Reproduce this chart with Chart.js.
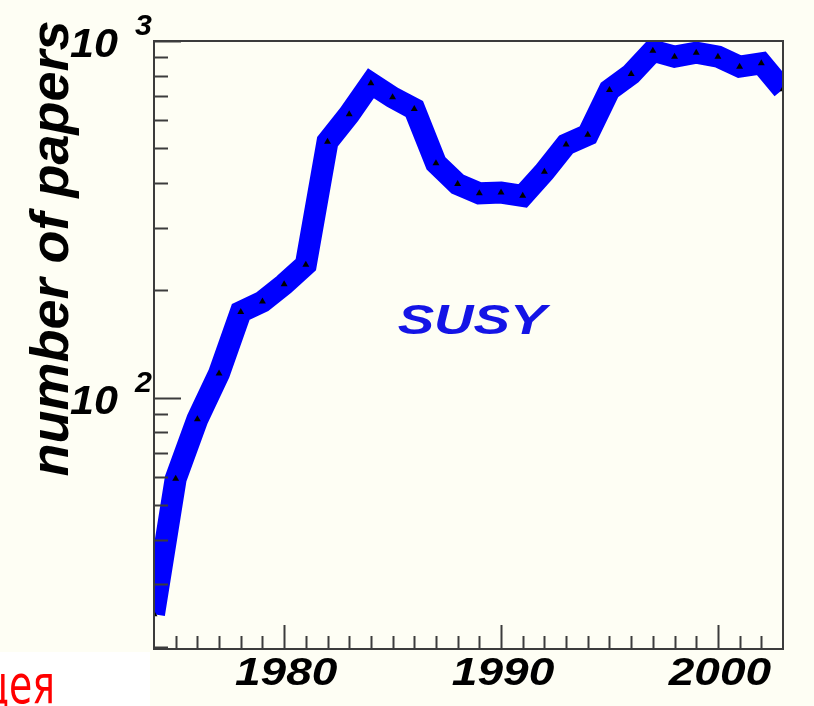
<!DOCTYPE html>
<html>
<head>
<meta charset="utf-8">
<script src="https://cdn.jsdelivr.net/npm/chart.js@4/dist/chart.umd.min.js"></script>
<style>
  html, body { margin: 0; padding: 0; background: #fefef4; }
  #wrap { width: 814px; height: 706px; position: relative; }
</style>
</head>
<body>
<div id="wrap"><canvas id="c" width="814" height="706"></canvas></div>
<script>
// Yearly count of SUSY papers
const years = [1974, 1975, 1976, 1977, 1978, 1979, 1980, 1981, 1982, 1983,
               1984, 1985, 1986, 1987, 1988, 1989, 1990, 1991, 1992, 1993,
               1994, 1995, 1996, 1997, 1998, 1999, 2000, 2001, 2002, 2003];
const papers = [24.7, 59.3, 87, 117, 174, 186, 208, 236, 522, 623,
                761, 695, 645, 454, 397, 374, 376, 368, 430, 513,
                546, 729, 808, 939, 904, 927, 904, 847, 866, 732];

// Axis ticks and labels
const xMajorTicks = [1980, 1990, 2000];
const xTickLabels = ['1980', '1990', '2000'];
const yDecades = [100, 1000];
const yTickBase = ['10', '10'];
const yTickExp = ['2', '3'];
const yMinorTicks = [20, 30, 40, 50, 60, 70, 80, 90, 200, 300, 400, 500, 600, 700, 800, 900];

const seriesLabel = 'SUSY';
const yTitle = 'number of papers';
const cornerText = 'цея';

const AXIS_FONT = '"Liberation Sans", Arial, Helvetica, sans-serif';

function drawText(ctx, text, x, y, font, color, align, sx) {
  ctx.save();
  ctx.translate(x, y);
  ctx.scale(sx, 1);
  ctx.font = font;
  ctx.fillStyle = color;
  ctx.textAlign = align;
  ctx.textBaseline = 'alphabetic';
  ctx.fillText(text, 0, 0);
  ctx.restore();
}

const framePlugin = {
  id: 'frame',
  beforeDraw(chart) {
    const ctx = chart.ctx;
    ctx.save();
    ctx.fillStyle = '#fefef4';
    ctx.fillRect(0, 0, chart.width, chart.height);
    // slide corner below the picture
    ctx.fillStyle = '#ffffff';
    ctx.fillRect(0, 652, 150, chart.height - 652);
    ctx.restore();
  },
  afterDraw(chart) {
    const ctx = chart.ctx;
    const a = chart.chartArea;
    const xs = chart.scales.x;
    const ys = chart.scales.y;
    ctx.save();

    // frame
    ctx.strokeStyle = '#3c3c3c';
    ctx.lineWidth = 2;
    ctx.strokeRect(a.left, a.top, a.right - a.left, a.bottom - a.top);

    // y ticks (inside, from the left axis)
    ctx.beginPath();
    yMinorTicks.forEach(v => {
      const py = Math.round(ys.getPixelForValue(v)) + 0.5;
      ctx.moveTo(a.left, py); ctx.lineTo(a.left + 14, py);
    });
    yDecades.forEach(v => {
      const py = Math.round(ys.getPixelForValue(v)) + 0.5;
      ctx.moveTo(a.left, py); ctx.lineTo(a.left + 27, py);
    });
    // x ticks (inside, from the bottom axis)
    for (let yr = years[0] + 1; yr < years[years.length - 1]; yr++) {
      const px = Math.round(xs.getPixelForValue(yr)) + 0.5;
      const len = xMajorTicks.includes(yr) ? 24 : 13;
      ctx.moveTo(px, a.bottom); ctx.lineTo(px, a.bottom - len);
    }
    ctx.lineWidth = 2;
    ctx.stroke();

    // x tick labels
    xMajorTicks.forEach((v, i) => {
      drawText(ctx, xTickLabels[i], xs.getPixelForValue(v) + 2, 685,
               'italic bold 39px ' + AXIS_FONT, '#000', 'center', 1.18);
    });

    // y tick labels: 10 with exponent
    yDecades.forEach((v, i) => {
      const py = ys.getPixelForValue(v);
      drawText(ctx, yTickBase[i], 118, py + 16, 'italic bold 41px ' + AXIS_FONT, '#000', 'right', 1.05);
      drawText(ctx, yTickExp[i], 135, py - 6, 'italic bold 29px ' + AXIS_FONT, '#000', 'left', 1.05);
    });

    // y title
    ctx.save();
    ctx.translate(68, 248.5);
    ctx.rotate(-Math.PI / 2);
    ctx.font = 'italic bold 54px ' + AXIS_FONT;
    ctx.fillStyle = '#000';
    ctx.textAlign = 'center';
    ctx.textBaseline = 'alphabetic';
    ctx.fillText(yTitle, 0, 0);
    ctx.restore();

    // series label
    drawText(ctx, seriesLabel, 472, 334, 'italic bold 42px ' + AXIS_FONT, '#1414e6', 'center', 1.3);

    // slide text in the corner
    drawText(ctx, cornerText, 55, 703, '54px "DejaVu Sans", sans-serif', '#ff0000', 'right', 0.7);

    ctx.restore();
  }
};

new Chart(document.getElementById('c'), {
  type: 'line',
  data: {
    datasets: [{
      label: seriesLabel,
      data: years.map((yr, i) => ({ x: yr, y: papers[i] })),
      borderColor: '#0000ff',
      backgroundColor: '#0000ff',
      borderWidth: 22,
      borderJoinStyle: 'miter',
      borderCapStyle: 'butt',
      tension: 0,
      fill: false,
      clip: 0,
      pointStyle: 'triangle',
      pointRadius: 4,
      pointBackgroundColor: '#000',
      pointBorderWidth: 0,
      pointHoverRadius: 4
    }]
  },
  options: {
    responsive: false,
    animation: false,
    devicePixelRatio: 1,
    layout: { padding: { left: 154, top: 41, right: 31, bottom: 57 } },
    scales: {
      x: { type: 'linear', min: 1974, max: 2003, display: false },
      y: { type: 'logarithmic', min: 19.75, max: 1000, display: false }
    },
    plugins: { legend: { display: false }, tooltip: { enabled: false } },
    events: []
  },
  plugins: [framePlugin]
});
</script>
</body>
</html>
